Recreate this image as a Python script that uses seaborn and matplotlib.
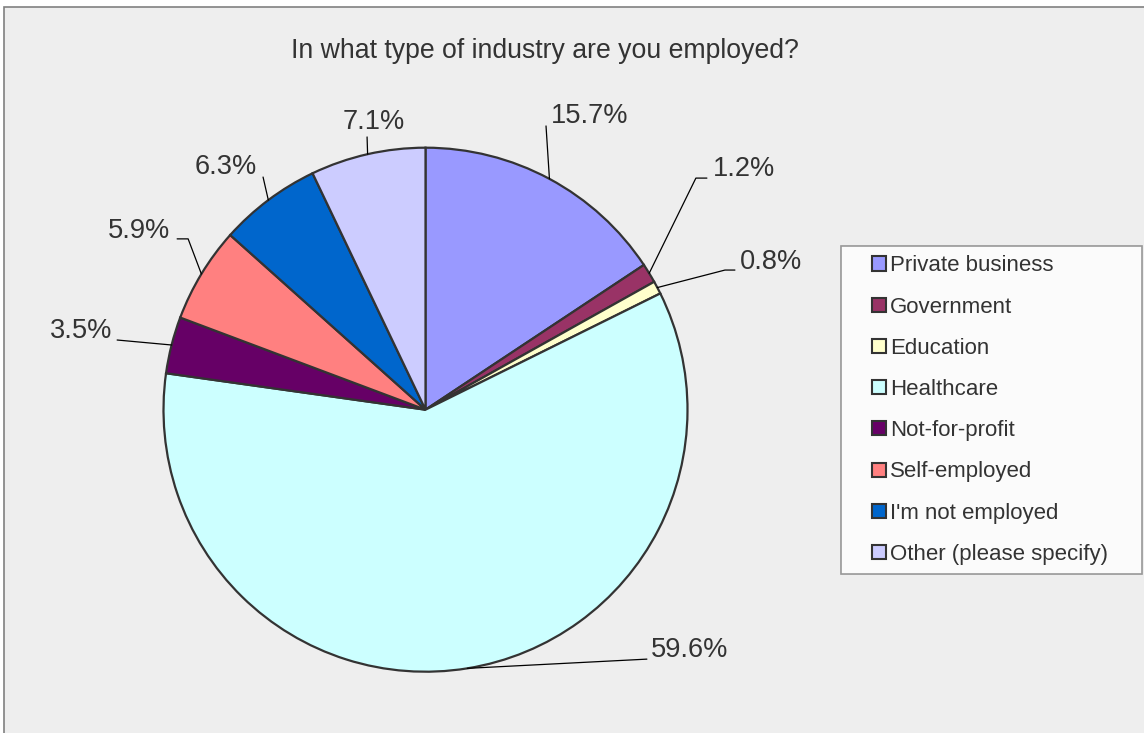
import numpy as np
import matplotlib
matplotlib.use("Agg")
import matplotlib.pyplot as plt
from matplotlib.patches import Patch, Rectangle
from matplotlib.legend_handler import HandlerPatch
import seaborn as sns

sns.set_theme(style="white")
plt.rcParams["font.family"] = ["Liberation Sans", "DejaVu Sans"]

title = "In what type of industry are you employed?"
categories = [
    "Private business",
    "Government",
    "Education",
    "Healthcare",
    "Not-for-profit",
    "Self-employed",
    "I'm not employed",
    "Other (please specify)",
]
shares = [15.7, 1.2, 0.8, 59.6, 3.5, 5.9, 6.3, 7.1]
colors = ["#9999FF", "#993366", "#FFFFCC", "#CCFFFF",
          "#660066", "#FF8080", "#0066CC", "#CCCCFF"]
pal = sns.color_palette(colors)

# leader line bends and text anchors, in units of the pie radius
label_layout = [
    ([(0.460, 1.083)], (0.479, 1.121), "left"),
    ([(1.032, 0.884), (1.074, 0.884)], (1.097, 0.919), "left"),
    ([(1.143, 0.533), (1.181, 0.533)], (1.200, 0.564), "left"),
    ([(0.845, -0.952)], (0.861, -0.917), "left"),
    ([(-1.177, 0.266)], (-1.197, 0.300), "right"),
    ([(-0.906, 0.652), (-0.948, 0.652)], (-0.975, 0.682), "right"),
    ([(-0.620, 0.888)], (-0.643, 0.926), "right"),
    ([(-0.223, 1.041)], (-0.197, 1.098), "center"),
]

W, H = 1144, 733
fig = plt.figure(figsize=(W / 100, H / 100), dpi=100, facecolor="white")

# grey chart area with its frame (right/bottom edges run off the canvas)
bg = Rectangle((4 / W, -0.05), 1.1, (H - 6.5) / H + 0.05,
               transform=fig.transFigure, facecolor="#EEEEEE",
               edgecolor="#808080", lw=1.2, zorder=-10)
fig.add_artist(bg)

cx, cy, r = 425.5, 409.7, 262
ax = fig.add_axes([(cx - r) / W, (H - cy - r) / H, 2 * r / W, 2 * r / H])
wedges, _ = ax.pie(shares, colors=pal, startangle=90, counterclock=False,
                   wedgeprops=dict(edgecolor="#333333", linewidth=1.6))
ax.set_xlim(-1, 1)
ax.set_ylim(-1, 1)
ax.axis("off")

txt_color = "#333333"
for w, v, (bends, tpos, ha) in zip(wedges, shares, label_layout):
    mid = np.deg2rad((w.theta1 + w.theta2) / 2)
    xs = [np.cos(mid)] + [b[0] for b in bends]
    ys = [np.sin(mid)] + [b[1] for b in bends]
    ax.plot(xs, ys, color="black", lw=0.9, clip_on=False)
    ax.text(tpos[0], tpos[1], f"{v:.1f}%", ha=ha, va="center",
            fontsize=19.6, color=txt_color, clip_on=False)

fig.text(544.5 / W, 1 - 51.5 / H, title, ha="center", va="center",
         fontsize=19.2, color=txt_color)


def square_patch(legend, orig_handle, xdescent, ydescent, width, height, fontsize):
    return Rectangle((-xdescent + width - height, -ydescent), height, height)


handles = [Patch(facecolor=c, edgecolor="#333333", linewidth=1.5) for c in pal]
leg = fig.legend(
    handles, categories,
    loc="upper left",
    bbox_to_anchor=(841 / W, 1 - 573 / H, 301 / W, 327 / H),
    mode="expand",
    fontsize=16,
    frameon=True,
    fancybox=False,
    borderpad=0.42,
    labelspacing=0.91,
    handlelength=1.6,
    handleheight=0.6,
    handletextpad=0.2,
    borderaxespad=0,
    handler_map={Patch: HandlerPatch(patch_func=square_patch)},
)
leg.get_frame().set_facecolor("white")
leg.get_frame().set_edgecolor("#808080")
leg.get_frame().set_linewidth(1.2)
for t in leg.get_texts():
    t.set_color(txt_color)

fig.savefig("out.png", dpi=100)
